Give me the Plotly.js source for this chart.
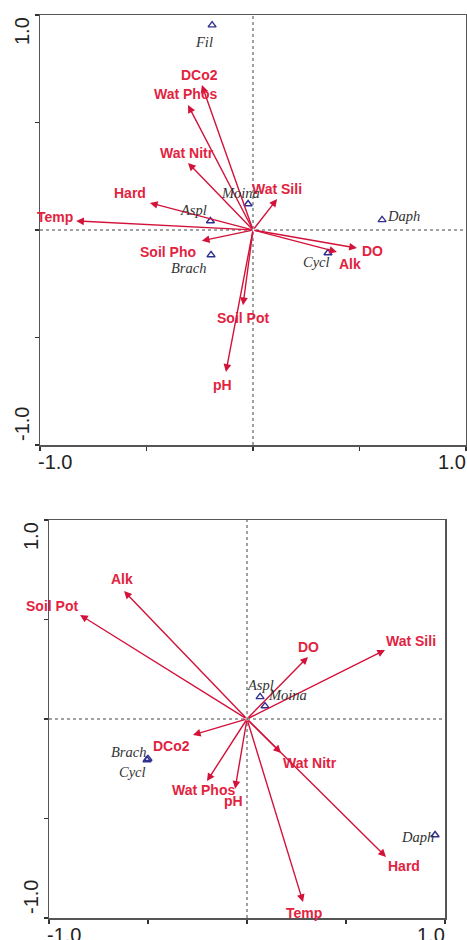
<!DOCTYPE html>
<html><head><meta charset="utf-8">
<script src="https://cdn.plot.ly/plotly-3.0.1.min.js"></script>
<style>html,body{margin:0;padding:0;background:#fff}#plot{width:467px;height:940px}</style>
</head><body><div id="plot"></div>
<script>
// ---- Data: panel 1 (top) ----
const envVars1 = ['DCo2','Wat Phos','Wat Nitr','Hard','Temp','Wat Sili','Soil Pho','Soil Pot','pH','DO','Alk'];
const env1X = [-0.24,-0.305,-0.305,-0.484,-0.83,0.113,-0.24,-0.047,-0.127,0.488,0.394];
const env1Y = [0.674,0.581,0.312,0.126,0.042,0.144,-0.05,-0.35,-0.66,-0.084,-0.102];
const species1 = ['Fil','Aspl','Moina','Daph','Brach','Cycl'];
const sp1X = [-0.192,-0.20,-0.023,0.606,-0.197,0.352];
const sp1Y = [0.953,0.042,0.121,0.047,-0.116,-0.107];

// ---- Data: panel 2 (bottom) ----
const envVars2 = ['Alk','Soil Pot','DO','Wat Sili','DCo2','Wat Phos','pH','Wat Nitr','Hard','Temp'];
const env2X = [-0.621,-0.843,0.308,0.697,-0.273,-0.202,-0.06,0.172,0.702,0.283];
const env2Y = [0.643,0.523,0.312,0.347,-0.08,-0.312,-0.35,-0.171,-0.693,-0.92];
const species2 = ['Aspl','Moina','Brach','Cycl','Daph'];
const sp2X = [0.066,0.091,-0.5,-0.505,0.95];
const sp2Y = [0.111,0.065,-0.2,-0.206,-0.583];

// Axis ticks
const tickVals = [-1,-0.5,0,0.5,1];
const tickLabelLow = '-1.0';
const tickLabelHigh = '1.0';

// ---- label pixel offsets (style) ----
const envOff1 = [[-2,10],[-3,11],[-1,10],[-20,10],[-21,4],[0,10],[-34,-11],[0,-13],[-3,-13],[16,-3],[13,-12]];
const spOff1 = [[-8,-17],[-17,11],[-8,11],[21,4],[-23,-13],[-11,-9]];
const envOff2 = [[-2,12],[-28,9],[1,10],[26,9],[-21,-11],[-4,-9],[-2,-12],[29,-10],[18,-9],[1,-11]];
const spOff2 = [[0,12],[22,11],[-20,7],[-15,-12],[-18,-2]];

const W = 467, H = 940;
const arrowCol = '#d3123a';
const envTextCol = '#e2233f';
const spTextCol = '#333';
const triCol = '#30308f';

const annotations = [];
const shapes = [];

function addPanel(xa, ya, names, ex, ey, eoff, sp, sx, sy, soff) {
  const xr = xa, yr = ya;
  names.forEach((n, i) => {
    annotations.push({xref: xr, yref: yr, axref: xr, ayref: yr, x: ex[i], y: ey[i], ax: 0, ay: 0,
      text: '', showarrow: true, arrowhead: 2, arrowsize: 1.1, arrowwidth: 1.4, arrowcolor: arrowCol, standoff: 0, startstandoff: 0});
    annotations.push({xref: xr, yref: yr, x: ex[i], y: ey[i], text: '<b>' + n + '</b>', showarrow: false,
      xshift: eoff[i][0], yshift: eoff[i][1], font: {family: 'Liberation Sans, Arial', size: 14, color: envTextCol}});
  });
  sp.forEach((n, i) => {
    annotations.push({xref: xr, yref: yr, x: sx[i], y: sy[i], text: '<i>' + n + '</i>', showarrow: false,
      xshift: soff[i][0], yshift: soff[i][1], font: {family: 'Liberation Serif, Times New Roman', size: 14.5, color: spTextCol}});
  });
  // tick labels
  const tf = {family: 'Liberation Sans, Arial', size: 20, color: '#222'};
  annotations.push({xref: xr, yref: yr, x: -1, y: -1, text: tickLabelLow, showarrow: false, xanchor: 'left', yanchor: 'top', xshift: -4, yshift: -4, font: tf});
  annotations.push({xref: xr, yref: yr, x: 1, y: -1, text: tickLabelHigh, showarrow: false, xanchor: 'right', yanchor: 'top', xshift: 2, yshift: -4, font: tf});
  annotations.push({xref: xr, yref: yr, x: -1, y: 1, text: tickLabelHigh, showarrow: false, textangle: -90, xanchor: 'right', yanchor: 'top', xshift: -5, yshift: 0, font: tf});
  annotations.push({xref: xr, yref: yr, x: -1, y: -1, text: tickLabelLow, showarrow: false, textangle: -90, xanchor: 'right', yanchor: 'bottom', xshift: -5, yshift: 2, font: tf});
  // dotted zero lines
  shapes.push({type: 'line', xref: xr, yref: yr, x0: 0, x1: 0, y0: -1, y1: 1, line: {color: '#444', width: 1, dash: 'dot'}, layer: 'below'});
  shapes.push({type: 'line', xref: xr, yref: yr, x0: -1, x1: 1, y0: 0, y1: 0, line: {color: '#444', width: 1, dash: 'dot'}, layer: 'below'});
}

addPanel('x', 'y', envVars1, env1X, env1Y, envOff1, species1, sp1X, sp1Y, spOff1);
addPanel('x2', 'y2', envVars2, env2X, env2Y, envOff2, species2, sp2X, sp2Y, spOff2);

const triMarker = {symbol: 'triangle-up-open', size: 7, color: triCol, line: {width: 1.4, color: triCol}};
const traces = [
  {type: 'scatter', mode: 'markers', x: sp1X, y: sp1Y, xaxis: 'x', yaxis: 'y', marker: triMarker, hoverinfo: 'text', text: species1},
  {type: 'scatter', mode: 'markers', x: sp2X, y: sp2Y, xaxis: 'x2', yaxis: 'y2', marker: triMarker, hoverinfo: 'text', text: species2}
];

function ax(domain, anchor) {
  return {domain: domain, anchor: anchor, range: [-1, 1], tickvals: tickVals, showticklabels: false,
    ticks: 'outside', ticklen: 4, tickwidth: 1.5, tickcolor: '#333', showgrid: false, zeroline: false,
    showline: true, linecolor: '#555', linewidth: 1.5, mirror: true, fixedrange: true};
}

const layout = {
  width: W, height: H, margin: {l: 0, r: 0, t: 0, b: 0},
  paper_bgcolor: '#fff', plot_bgcolor: '#fff', showlegend: false,
  xaxis: ax([40 / W, 466 / W], 'y'),
  yaxis: ax([1 - 445 / H, 1 - 15 / H], 'x'),
  xaxis2: ax([49 / W, 445 / W], 'y2'),
  yaxis2: ax([1 - 918 / H, 1 - 520 / H], 'x2'),
  annotations: annotations, shapes: shapes
};

Plotly.newPlot('plot', traces, layout, {displayModeBar: false, staticPlot: true});
</script>
</body></html>
